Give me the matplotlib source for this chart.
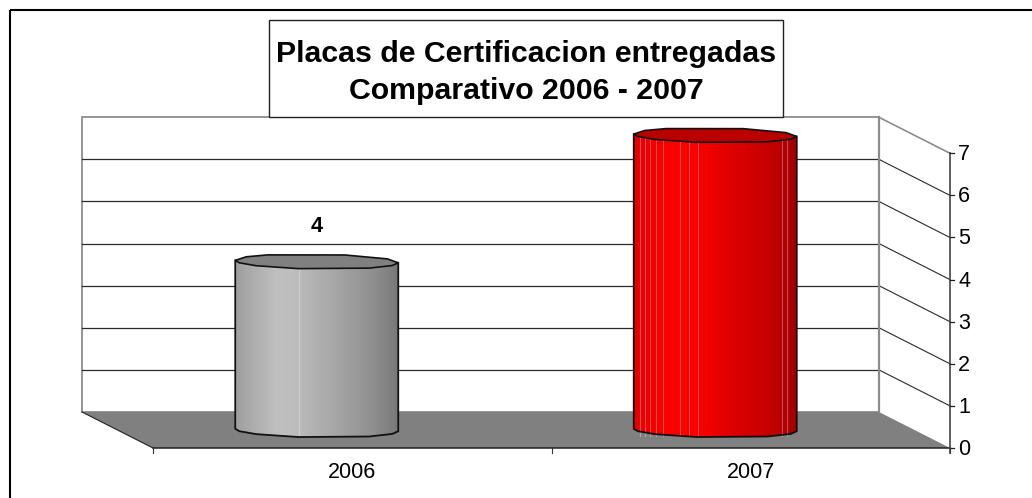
import numpy as np
import matplotlib
matplotlib.use("Agg")
import matplotlib.pyplot as plt
from matplotlib.colors import LinearSegmentedColormap
from matplotlib.patches import Polygon, Rectangle

years = ["2006", "2007"]
values = [4, 7]
value_ticks = [0, 1, 2, 3, 4, 5, 6, 7]
title_lines = ["Placas de Certificacion entregadas", "Comparativo 2006 - 2007"]

gray_stops = ["#a0a0a0", "#b0b0b0", "#c0c0c0", "#bcbcbc", "#b0b0b0", "#a6a6a6", "#9a9a9a", "#8c8c8c", "#7a7a7a"]
red_stops = ["#e40000", "#f40000", "#ff0000", "#fc0000", "#ec0000", "#dc0000", "#d00000", "#c00000", "#a40000"]
# irregular facet angles of the cylinder outline, in degrees
facet_angles = [0, 30, 70, 127, 150, 180, 198, 222, 257, 310, 338]

W, H = 1032, 498
# pixel position of the front plane, the value axis maps 0..7 onto it
left_px, right_px = 153, 950
base_px = 448
px_x = (right_px - left_px) / len(years)
px_y = 42.1

plt.rcParams["font.family"] = ["Liberation Sans", "DejaVu Sans"]

fig = plt.figure(figsize=(W / 100, H / 100), dpi=100)
ax = fig.add_axes([0, 0, 1, 1])
ax.set_xlim(-left_px / px_x, (W - left_px) / px_x)
ax.set_ylim(-(H - base_px) / px_y, base_px / px_y)
ax.axis("off")


def fx(px):
    return (px - left_px) / px_x


def fy(px):
    return (base_px - px) / px_y


# depth of the box in data units
dx = -71 / px_x
dy = 36 / px_y
n = len(years)
ymax = value_ticks[-1]

# outer frame, only top and left are inside the picture
ax.plot([fx(9.5), fx(W)], [fy(10.5), fy(10.5)], color="black", lw=1.5, zorder=1, solid_capstyle="butt")
ax.plot([fx(9.5), fx(9.5)], [fy(10.5), fy(H)], color="black", lw=1.5, zorder=1, solid_capstyle="butt")

# walls and floor
ax.add_patch(Polygon([(dx, dy), (n + dx, dy), (n + dx, dy + ymax), (dx, dy + ymax)],
                     fc="white", ec="#8c8c8c", lw=1.3, zorder=1))
ax.add_patch(Polygon([(0, 0), (n, 0), (n + dx, dy), (dx, dy)], fc="#808080", ec="none", zorder=2))
ax.plot([dx, 0], [dy, 0], color="#222222", lw=0.8, zorder=3)
ax.plot([0, n], [0, 0], color="#222222", lw=1.1, zorder=3)

# gridlines on back wall and side wall
for v in value_ticks[1:-1]:
    ax.plot([dx, n + dx], [v + dy, v + dy], color="#2a2a2a", lw=0.9, zorder=2)
    ax.plot([n + dx, n], [v + dy, v], color="#2a2a2a", lw=0.8, zorder=2)
ax.plot([n + dx, n], [ymax + dy, ymax], color="#8c8c8c", lw=1.2, zorder=2)
ax.plot([n + dx, n + dx], [dy, dy + ymax], color="#8c8c8c", lw=1.6, zorder=2)

# value axis
ax.plot([n, n], [-5 / px_y, ymax], color="#444444", lw=1.2, zorder=3)
for v in value_ticks:
    ax.plot([n, n + 4 / px_x], [v, v], color="#222222", lw=0.9, zorder=3)
    ax.text(n + 8 / px_x, v - 1.5 / px_y, str(v), fontsize=15.5, ha="left", va="center", zorder=4)

# category axis
for i in range(n + 1):
    ax.plot([i, i], [0, -5 / px_y], color="#333333", lw=0.8, zorder=3)
for i, year in enumerate(years):
    ax.text(i + 0.5, -24 / px_y, year, fontsize=15.5, ha="center", va="center", zorder=4)


def outline(cx, cy, rx, ry, tilt):
    # faceted ellipse, the original cylinders are polygons and not true ellipses
    t = np.radians(facet_angles)
    return np.column_stack([cx + rx * np.cos(t), cy + ry * np.sin(t) - tilt * np.cos(t)])


def cylinder(cx, value, stops, top_color, streaks):
    rx = 81.5 / px_x
    ry = 7.5 / px_y
    tilt = 1.2 / px_y
    cy0 = dy / 2
    cy1 = dy / 2 + value
    x0 = cx + dx / 2 - rx
    x1 = cx + dx / 2 + rx
    base = outline(cx + dx / 2, cy0, rx, ry, tilt)
    top = outline(cx + dx / 2, cy1, rx, ry, tilt)
    front = base[base[:, 1] <= np.interp(base[:, 0], [x0, x1], [cy0 + tilt, cy0 - tilt])]
    front = front[np.argsort(front[:, 0])]
    body = np.vstack([[x0, cy1 + tilt], [x0, cy0 + tilt], front, [x1, cy0 - tilt], [x1, cy1 - tilt]])
    cmap = LinearSegmentedColormap.from_list("shade", stops, N=48)
    im = ax.imshow(np.linspace(0, 1, 256)[None, :], cmap=cmap, aspect="auto", zorder=5,
                   extent=(x0, x1, cy0 - ry, cy1 + ry))
    clip = Polygon(body, closed=True, transform=ax.transData, fc="none", ec="none")
    ax.add_patch(clip)
    im.set_clip_path(clip)
    for s in streaks:
        xs = x0 + s * (x1 - x0)
        ax.plot([xs, xs], [cy0 - ry * 0.75, cy1], color="white", alpha=0.3, lw=0.8, zorder=6)
    ax.add_patch(Polygon(body, closed=True, fc="none", ec="#111111", lw=1.3, zorder=7))
    ax.add_patch(Polygon(top, closed=True, fc=top_color, ec="#111111", lw=1.2, zorder=8))


cylinder(0.5, values[0], gray_stops, "#808080", [0.39])
cylinder(1.5, values[1], red_stops, "#bb0000",
         [0.04, 0.07, 0.1, 0.135, 0.18, 0.285, 0.34, 0.395, 0.91, 0.94])

# data label, only the 2006 bar carries one
ax.text(0.5 + dx / 2, values[0] + dy / 2 + 35 / px_y, str(values[0]), fontsize=15.5, fontweight="bold",
        ha="center", va="center", zorder=9)

# title box
ax.add_patch(Rectangle((fx(269), fy(117)), 514 / px_x, 97 / px_y,
                       fc="white", ec="#222222", lw=1.0, zorder=10))
ax.text(fx(526), fy(54), title_lines[0], fontsize=21.8, fontweight="bold",
        ha="center", va="center", zorder=11)
ax.text(fx(526), fy(91), title_lines[1], fontsize=21.8, fontweight="bold",
        ha="center", va="center", zorder=11)

fig.savefig("out.png", dpi=100)
